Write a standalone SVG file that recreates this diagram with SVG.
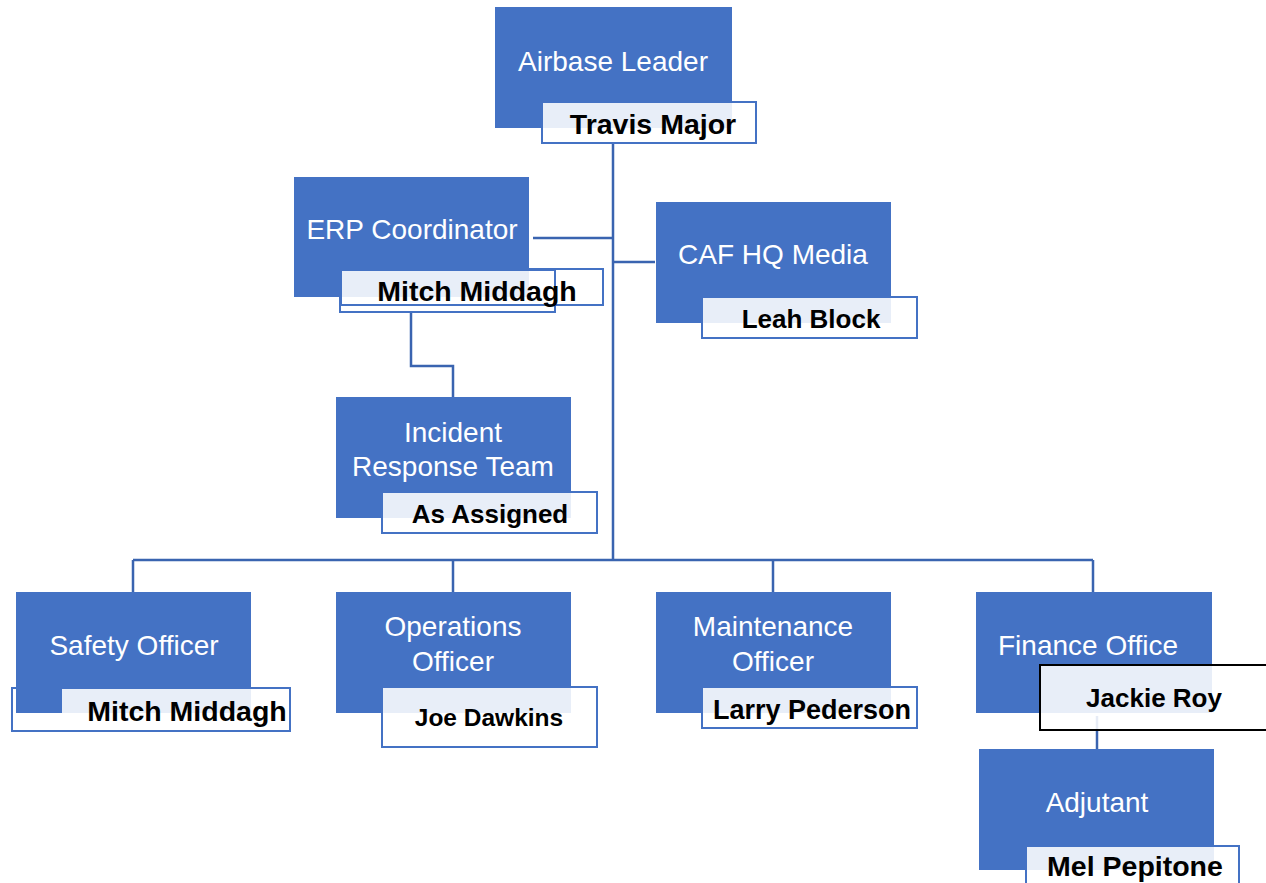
<svg xmlns="http://www.w3.org/2000/svg" width="1266" height="883" viewBox="0 0 1266 883">
<style>
.box{fill:#4472C4}
.nb{fill:#ffffff;fill-opacity:0.88;stroke:#4472C4;stroke-width:2}
.nbf{fill:#ffffff;fill-opacity:0.88}
.bd{fill:none;stroke:#4472C4;stroke-width:2}
.t{font-family:"Liberation Sans",Arial,sans-serif;font-size:28px;fill:#ffffff;text-anchor:middle}
.n{font-family:"Liberation Sans",Arial,sans-serif;font-size:28.5px;font-weight:bold;fill:#000000;text-anchor:middle}
.c{fill:none;stroke:#3A64B0;stroke-width:2.5}
</style>
<rect width="1266" height="883" fill="#ffffff"/>
<g id="connectors">
<path class="c" d="M613 143 V560"/>
<path class="c" d="M533 238 H613"/>
<path class="c" d="M613 262 H655"/>
<path class="c" d="M411 312 V366 H453 V397"/>
<path class="c" d="M133 560 H1093"/>
<path class="c" d="M133 560 V592 M453 560 V592 M773 560 V592 M1093 560 V592"/>
<path class="c" d="M1097 716 V749"/>
</g>
<g id="airbase-leader">
<rect class="box" x="495" y="7" width="237" height="121"/>
<text class="t" x="613" y="71">Airbase Leader</text>
<rect class="nb" x="542" y="102" width="214" height="41"/>
<text class="n" x="653" y="134">Travis Major</text>
</g>
<g id="erp-coordinator">
<rect class="box" x="294" y="177" width="235" height="120"/>
<text class="t" x="412" y="239">ERP Coordinator</text>
<rect class="nb" x="340" y="270" width="215" height="42"/>
<rect class="bd" x="341" y="269" width="262" height="36"/>
<text class="n" x="477" y="301">Mitch Middagh</text>
</g>
<g id="caf-hq-media">
<rect class="box" x="656" y="202" width="235" height="121"/>
<text class="t" x="773" y="264">CAF HQ Media</text>
<rect class="nb" x="702" y="297" width="215" height="41"/>
<text class="n" x="811" y="328" style="font-size:26px">Leah Block</text>
</g>
<g id="incident-response-team">
<rect class="box" x="336" y="397" width="235" height="121"/>
<text class="t" x="453" y="442">Incident</text>
<text class="t" x="453" y="476">Response Team</text>
<rect class="nb" x="382" y="492" width="215" height="41"/>
<text class="n" x="490" y="523" style="font-size:26px">As Assigned</text>
</g>
<g id="safety-officer">
<rect class="box" x="16" y="592" width="235" height="121"/>
<text class="t" x="134" y="655">Safety Officer</text>
<rect class="nbf" x="62" y="688" width="228" height="43"/>
<rect class="bd" x="12" y="688" width="278" height="43"/>
<text class="n" x="187" y="721">Mitch Middagh</text>
</g>
<g id="operations-officer">
<rect class="box" x="336" y="592" width="235" height="121"/>
<text class="t" x="453" y="636">Operations</text>
<text class="t" x="453" y="671">Officer</text>
<rect class="nb" x="382" y="687" width="215" height="60"/>
<text class="n" x="489" y="726" style="font-size:24.5px">Joe Dawkins</text>
</g>
<g id="maintenance-officer">
<rect class="box" x="656" y="592" width="235" height="121"/>
<text class="t" x="773" y="636">Maintenance</text>
<text class="t" x="773" y="671">Officer</text>
<rect class="nb" x="702" y="687" width="215" height="41"/>
<text class="n" x="812" y="719" style="font-size:27px">Larry Pederson</text>
</g>
<g id="finance-office">
<rect class="box" x="976" y="592" width="236" height="121"/>
<text class="t" x="1088" y="655">Finance Office</text>
<rect x="1040" y="665" width="240" height="65" fill="#ffffff" fill-opacity="0.88" stroke="#000000" stroke-width="2"/>
<text class="n" x="1154" y="707" style="font-size:26px">Jackie Roy</text>
</g>
<g id="adjutant">
<rect class="box" x="979" y="749" width="235" height="121"/>
<text class="t" x="1097" y="812">Adjutant</text>
<rect class="nb" x="1026" y="846" width="213" height="50"/>
<text class="n" x="1135" y="876">Mel Pepitone</text>
</g>
</svg>
